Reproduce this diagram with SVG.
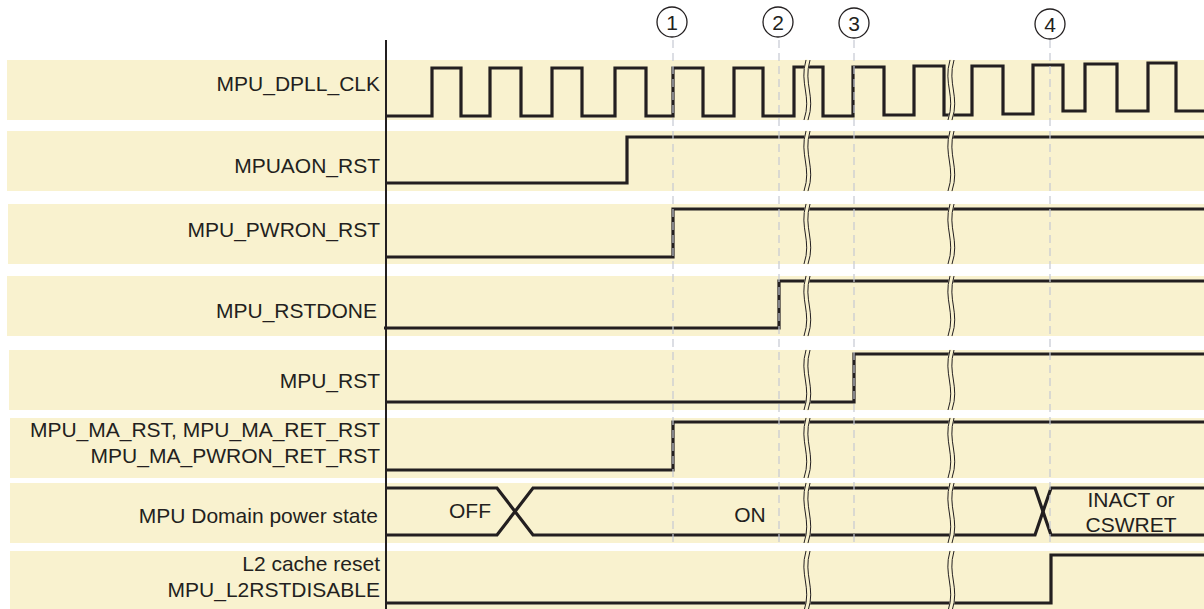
<svg xmlns="http://www.w3.org/2000/svg" xmlns:xlink="http://www.w3.org/1999/xlink" width="1204" height="609" viewBox="0 0 1204 609">
<style>
.band{fill:#f9f2cf}
.lbl{font-family:"Liberation Sans",Arial,sans-serif;font-size:21px;fill:#231f20;text-anchor:end}
.st{font-family:"Liberation Sans",Arial,sans-serif;font-size:21px;fill:#231f20;text-anchor:middle}
.sig{fill:none;stroke:#231f20;stroke-width:3.2;stroke-linejoin:miter}
.axis{stroke:#231f20;stroke-width:2}
.guide{stroke:#c5c8d2;stroke-width:1.2;stroke-dasharray:8 5;fill:none}
.num{font-family:"Liberation Sans",Arial,sans-serif;font-size:21px;fill:#231f20;text-anchor:middle}
.circ{fill:none;stroke:#231f20;stroke-width:1.3}
.brk-w{fill:none;stroke:#f9f2cf;stroke-width:5}
.brk-l{fill:none;stroke:#231f20;stroke-width:1}
</style>
<defs>
<path id="wave" d="M1,0 C-6,24 7,36 -1,60"/>
<g id="brk">
<use xlink:href="#wave" class="brk-w"/>
<use xlink:href="#wave" class="brk-l" transform="translate(-2,0)"/>
<use xlink:href="#wave" class="brk-l" transform="translate(2,0)"/>
</g>
</defs>

<g id="row-clk">
<rect class="band" x="7" y="60" width="1197" height="60"/>
<text class="lbl" x="380" y="91">MPU_DPLL_CLK</text>
<path class="sig" d="M386,116 H432 V68 H461 V116 H490 V68 H521 V116 H552 V68 H582 V116 H615 V68 H646 V116 H673 V68 H703 V116 H734 V68 H763 V116 H794 V67 H823 V116 H853 V67 H884 V115 H914 V66 H944 V115 H972 V66 H1003 V114 H1033 V65 H1063 V111 H1085 V64 H1117 V111 H1148 V63 H1176 V111 H1204"/>
</g>

<g id="row-mpuaon">
<rect class="band" x="7" y="131" width="1197" height="60"/>
<text class="lbl" x="380" y="173">MPUAON_RST</text>
<path class="sig" d="M386,183 H627 V137 H1204"/>
</g>

<g id="row-pwron">
<rect class="band" x="8" y="204" width="1196" height="60"/>
<text class="lbl" x="380" y="237">MPU_PWRON_RST</text>
<path class="sig" d="M386,257 H673 V209 H1204"/>
</g>

<g id="row-rstdone">
<rect class="band" x="7" y="276" width="1197" height="60"/>
<text class="lbl" x="377" y="318">MPU_RSTDONE</text>
<path class="sig" d="M384,328 H779 V281 H1204"/>
</g>

<g id="row-mpurst">
<rect class="band" x="9" y="350" width="1195" height="60"/>
<text class="lbl" x="380" y="388">MPU_RST</text>
<path class="sig" d="M386,402 H854 V354 H1204"/>
</g>

<g id="row-ma">
<rect class="band" x="10" y="418" width="1194" height="60"/>
<text class="lbl" x="380" y="437">MPU_MA_RST, MPU_MA_RET_RST</text>
<text class="lbl" x="380" y="463">MPU_MA_PWRON_RET_RST</text>
<path class="sig" d="M386,470 H673 V422 H1204"/>
</g>

<g id="row-domain">
<rect class="band" x="10" y="483" width="1194" height="60"/>
<text class="lbl" x="378" y="523">MPU Domain power state</text>
<path class="sig" d="M386,488 H497 L533,535 H1035 L1051,488 H1204"/>
<path class="sig" d="M386,535 H497 L533,488 H1035 L1051,535 H1204"/>
<text class="st" x="470" y="518">OFF</text>
<text class="st" x="750" y="522">ON</text>
<text class="st" x="1131" y="507">INACT or</text>
<text class="st" x="1131" y="532">CSWRET</text>
</g>

<g id="row-l2">
<rect class="band" x="10" y="551" width="1194" height="58"/>
<text class="lbl" x="380" y="571">L2 cache reset</text>
<text class="lbl" x="380" y="597">MPU_L2RSTDISABLE</text>
<path class="sig" d="M386,603 H1051 V555 H1204"/>
</g>

<g id="breaks">
<use xlink:href="#brk" transform="translate(807,60)"/>
<use xlink:href="#brk" transform="translate(807,131)"/>
<use xlink:href="#brk" transform="translate(807,204)"/>
<use xlink:href="#brk" transform="translate(807,276)"/>
<use xlink:href="#brk" transform="translate(807,350)"/>
<use xlink:href="#brk" transform="translate(807,418)"/>
<use xlink:href="#brk" transform="translate(807,483)"/>
<use xlink:href="#brk" transform="translate(807,551)"/>
<use xlink:href="#brk" transform="translate(951,60)"/>
<use xlink:href="#brk" transform="translate(951,131)"/>
<use xlink:href="#brk" transform="translate(951,204)"/>
<use xlink:href="#brk" transform="translate(951,276)"/>
<use xlink:href="#brk" transform="translate(951,350)"/>
<use xlink:href="#brk" transform="translate(951,418)"/>
<use xlink:href="#brk" transform="translate(951,483)"/>
<use xlink:href="#brk" transform="translate(951,551)"/>
</g>

<g id="connectors">
<line class="guide" x1="673" y1="40" x2="673" y2="543"/>
<line class="guide" x1="779" y1="40" x2="779" y2="543"/>
<line class="guide" x1="854" y1="40" x2="854" y2="543"/>
<line class="guide" x1="1050" y1="40" x2="1050" y2="543"/>
</g>

<g id="axis">
<line class="axis" x1="386" y1="40" x2="386" y2="609"/>
</g>

<g id="marker-1">
<circle class="circ" cx="672" cy="22" r="15"/>
<text class="num" x="672" y="30">1</text>
</g>
<g id="marker-2">
<circle class="circ" cx="778" cy="22" r="15"/>
<text class="num" x="778" y="30">2</text>
</g>
<g id="marker-3">
<circle class="circ" cx="854" cy="23" r="15"/>
<text class="num" x="854" y="31">3</text>
</g>
<g id="marker-4">
<circle class="circ" cx="1050" cy="24" r="15"/>
<text class="num" x="1050" y="32">4</text>
</g>
</svg>
